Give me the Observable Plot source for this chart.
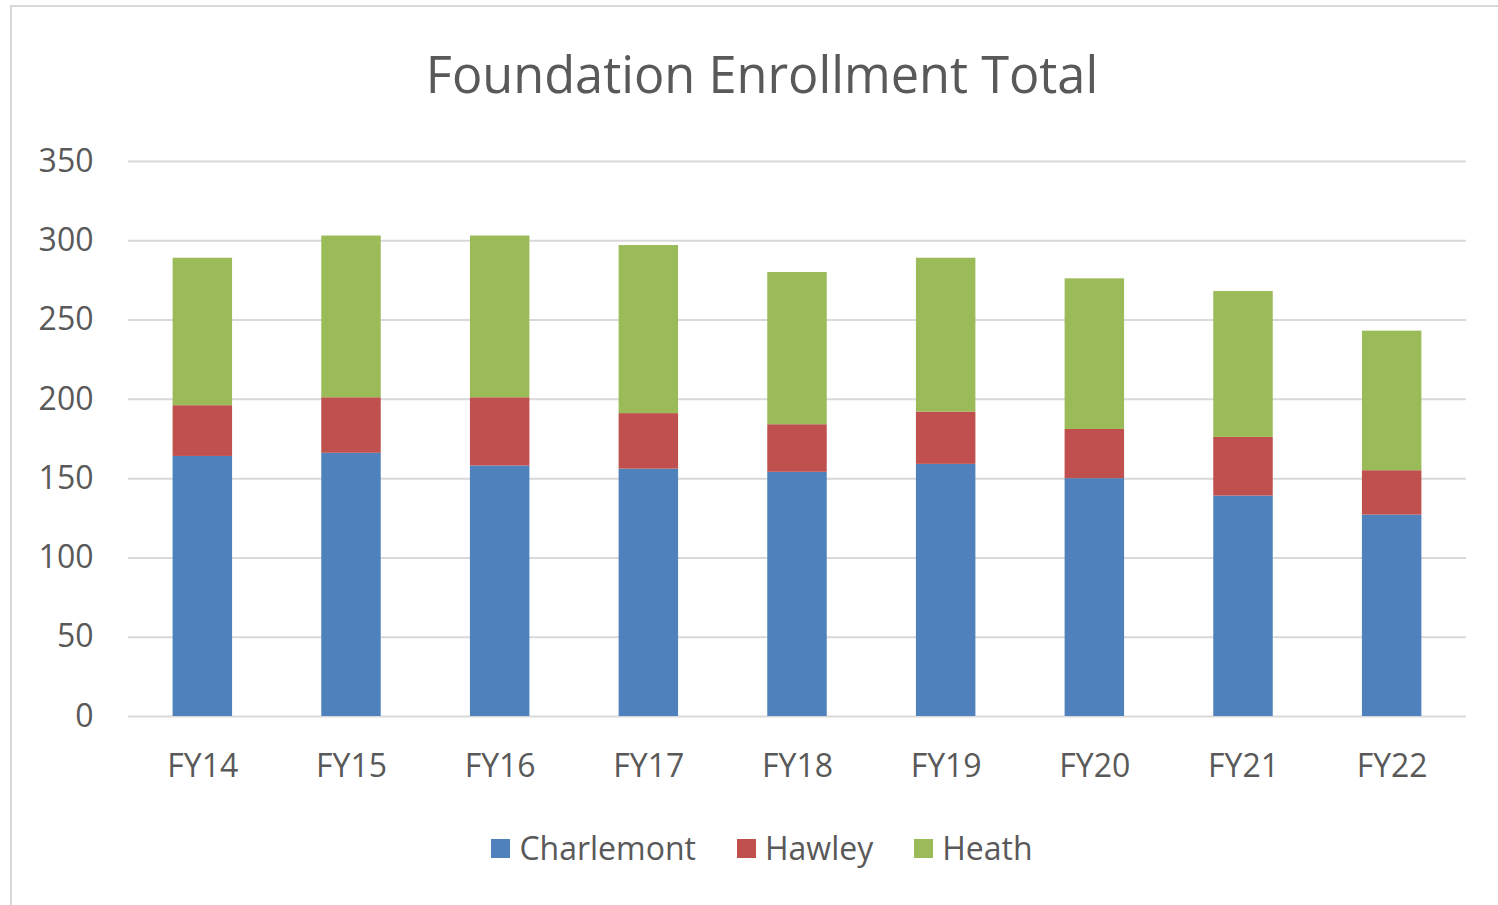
<!DOCTYPE html>
<html>
<head>
<meta charset="utf-8">
<script src="https://cdn.jsdelivr.net/npm/d3@7"></script>
<script src="https://cdn.jsdelivr.net/npm/@observablehq/plot@0.6"></script>
<style>
  html, body { margin: 0; padding: 0; background: #fff; overflow: hidden; width: 1498px; height: 905px; }
  #frame { position: absolute; left: 10px; top: 5px; width: 1504px; height: 920px; border: 2px solid #d9d9d9; box-sizing: border-box; }
  #title { position: absolute; left: 10px; width: 1504px; top: 39px; text-align: center; font-family: "Open Sans", sans-serif; font-size: 50.5px; color: #595959; line-height: 70px; }
  #chart { position: absolute; left: 12px; top: 120px; width: 1486px; }
  #chart svg { max-width: none; }
  #legend { position: absolute; left: 10px; width: 1504px; top: 826px; display: flex; justify-content: center; align-items: center; gap: 41px; font-family: "Open Sans", sans-serif; font-size: 32px; color: #595959; line-height: 44px; }
  .item { display: flex; align-items: center; gap: 9px; }
  .sw { width: 19px; height: 19px; display: inline-block; }
</style>
</head>
<body>
<div id="frame"></div>
<div id="title"></div>
<div id="chart"></div>
<div id="legend"></div>
<script>
const titleText = "Foundation Enrollment Total";
const years = ["FY14", "FY15", "FY16", "FY17", "FY18", "FY19", "FY20", "FY21", "FY22"];
const schools = ["Charlemont", "Hawley", "Heath"];
const charlemont = [164, 166, 158, 156, 154, 159, 150, 139, 127];
const hawley = [32, 35, 43, 35, 30, 33, 31, 37, 28];
const heath = [93, 102, 102, 106, 96, 97, 95, 92, 88];
const yTicks = [0, 50, 100, 150, 200, 250, 300, 350];
const colors = ["#4f81bd", "#c0504d", "#9bbb59"];

const series = [charlemont, hawley, heath];
const rows = [];
years.forEach((yr, i) => {
  schools.forEach((s, j) => rows.push({year: yr, school: s, value: series[j][i]}));
});

document.getElementById("title").textContent = titleText;

const chart = Plot.plot({
  width: 1486,
  height: 700,
  marginTop: 41,
  marginBottom: 104,
  marginLeft: 116,
  marginRight: 32,
  style: {fontFamily: "Open Sans, sans-serif", fontSize: "32px", color: "#595959", background: "transparent"},
  x: {domain: years, paddingInner: 0.6, paddingOuter: 0.3, round: false, label: null},
  y: {domain: [0, 350], label: null},
  color: {domain: schools, range: colors},
  marks: [
    Plot.gridY(yTicks, {stroke: "#d9d9d9", strokeOpacity: 1, strokeWidth: 2}),
    Plot.barY(rows, {x: "year", y: "value", fill: "school", order: schools}),
    Plot.axisX({tickSize: 0, tickPadding: 38, fontSize: 32, label: null}),
    Plot.axisY(yTicks, {tickSize: 0, tickPadding: 35, fontSize: 32, label: null})
  ]
});
document.getElementById("chart").appendChild(chart);

const legend = document.getElementById("legend");
schools.forEach((s, j) => {
  const item = document.createElement("div");
  item.className = "item";
  const sw = document.createElement("span");
  sw.className = "sw";
  sw.style.background = colors[j];
  const t = document.createElement("span");
  t.textContent = s;
  item.appendChild(sw);
  item.appendChild(t);
  legend.appendChild(item);
});
</script>
</body>
</html>
